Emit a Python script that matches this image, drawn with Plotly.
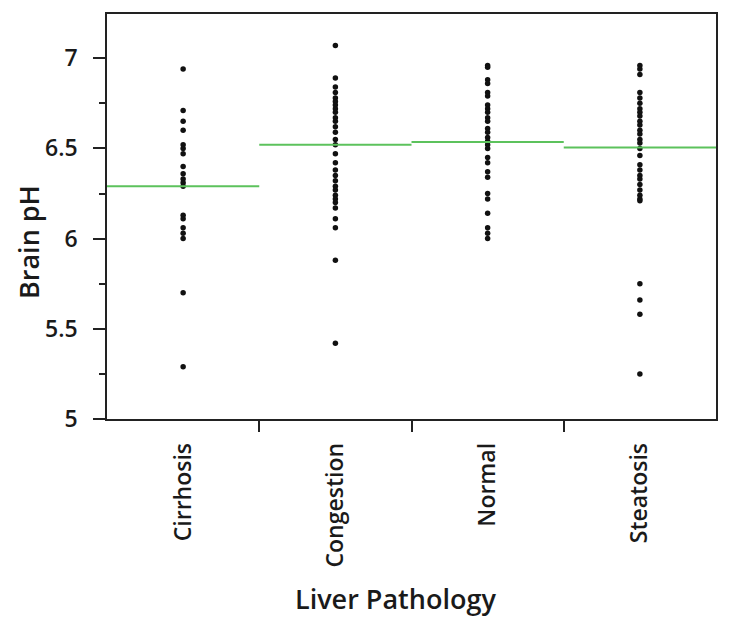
import plotly.graph_objects as go

categories = ["Cirrhosis", "Congestion", "Normal", "Steatosis"]

cirrhosis = [6.94, 6.71, 6.65, 6.60, 6.52, 6.50, 6.47, 6.40, 6.36, 6.33, 6.31, 6.29,
             6.13, 6.11, 6.06, 6.03, 6.00, 5.70, 5.29]
congestion = [7.07, 6.89, 6.84, 6.81, 6.78, 6.76, 6.74, 6.72, 6.70, 6.67, 6.65, 6.62,
              6.59, 6.55, 6.52, 6.47, 6.42, 6.38, 6.35, 6.32, 6.29, 6.27, 6.24, 6.22,
              6.20, 6.17, 6.11, 6.06, 5.88, 5.42]
normal = [6.96, 6.95, 6.88, 6.86, 6.81, 6.79, 6.74, 6.72, 6.70, 6.67, 6.65, 6.61,
          6.59, 6.56, 6.54, 6.52, 6.50, 6.45, 6.42, 6.37, 6.34, 6.25, 6.22, 6.14,
          6.06, 6.03, 6.00]
steatosis = [6.96, 6.94, 6.91, 6.81, 6.78, 6.75, 6.72, 6.70, 6.68, 6.65, 6.63, 6.60,
             6.58, 6.55, 6.53, 6.50, 6.46, 6.41, 6.38, 6.35, 6.33, 6.30, 6.27, 6.24,
             6.22, 6.21, 5.75, 5.66, 5.58, 5.25]
group_means = [6.29, 6.52, 6.535, 6.505]

y_tick_vals = [5, 5.5, 6, 6.5, 7]
y_tick_text = ["5", "5.5", "6", "6.5", "7"]

groups = [cirrhosis, congestion, normal, steatosis]

FONT = "Open Sans"
OFF = 8  # default page body margin
W, H = 729 - OFF, 625 - OFF
ML, MR, MT, MB = 107 - OFF, 13, 14 - OFF, 206
PW, PH = W - ML - MR, H - MT - MB


def px_x(x):
    return (x - OFF - ML) / PW


def px_y(y):
    return 1 - (y - OFF - MT) / PH


fig = go.Figure()

for i, vals in enumerate(groups):
    fig.add_trace(go.Scatter(
        x=[i] * len(vals), y=vals, mode="markers",
        marker=dict(size=5.5, color="#111111"),
        showlegend=False, hoverinfo="y"))

for i, m in enumerate(group_means):
    fig.add_trace(go.Scatter(
        x=[i - 0.5, i + 0.5], y=[m, m], mode="lines",
        line=dict(color="rgb(92,194,92)", width=2),
        showlegend=False, hoverinfo="skip"))

# invisible trace for boundary-tick axis
fig.add_trace(go.Scatter(x=[0.5], y=[5], xaxis="x2", mode="markers",
                         marker=dict(opacity=0), showlegend=False, hoverinfo="skip"))

fig.update_layout(
    width=W, height=H,
    margin=dict(l=ML, r=MR, t=MT, b=MB),
    plot_bgcolor="white", paper_bgcolor="white",
    font=dict(family=FONT, color="#1a1a1a"),
    xaxis=dict(
        range=[-0.5, 3.5], tickvals=[0, 1, 2, 3], ticktext=categories,
        ticks="", tickangle=-90, showgrid=False, zeroline=False, automargin=False,
        showline=True, mirror=True, linecolor="#222", linewidth=1.5,
        ticklabelstandoff=13,
        tickfont=dict(size=23, family=FONT, weight=600),
    ),
    xaxis2=dict(
        range=[-0.5, 3.5], overlaying="x", anchor="y", side="bottom",
        tickvals=[0.5, 1.5, 2.5], ticks="outside", ticklen=12, tickwidth=1.5,
        tickcolor="#222", showticklabels=False, showgrid=False, zeroline=False,
        showline=False, automargin=False,
    ),
    yaxis=dict(
        range=[5, 7.245], tickvals=y_tick_vals, ticktext=y_tick_text,
        ticks="outside", ticklen=12, tickwidth=1.5, tickcolor="#222",
        minor=dict(tickvals=[5.25, 5.75, 6.25, 6.75], ticks="outside",
                   ticklen=6, tickwidth=1.5, tickcolor="#222"),
        showgrid=False, zeroline=False, automargin=False,
        showline=True, mirror=True, linecolor="#222", linewidth=1.5,
        ticklabelstandoff=11,
        tickfont=dict(size=23, family=FONT, weight=600),
    ),
    annotations=[
        dict(text="Liver Pathology", xref="paper", yref="paper",
             x=px_x(395), y=px_y(598),
             xanchor="center", yanchor="middle", showarrow=False,
             font=dict(size=27, family=FONT, weight=600)),
        dict(text="Brain pH", xref="paper", yref="paper",
             x=px_x(28), y=px_y(242), textangle=-90,
             xanchor="center", yanchor="middle", showarrow=False,
             font=dict(size=27, family=FONT, weight=600)),
    ],
)

fig.write_html("out.html")
